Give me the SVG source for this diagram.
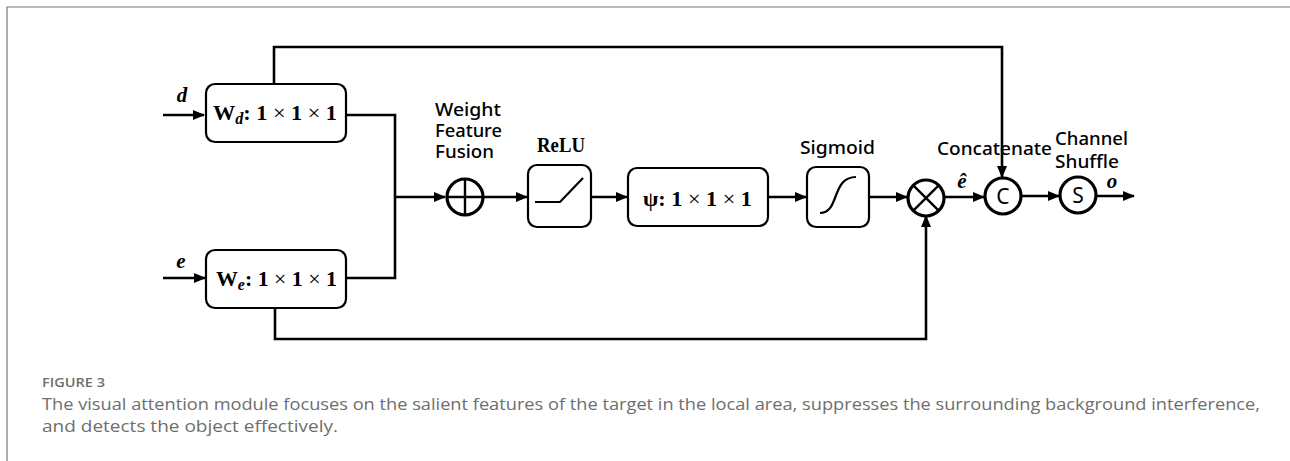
<svg xmlns="http://www.w3.org/2000/svg" width="1290" height="461" viewBox="0 0 1290 461">
<style>
.box{fill:#fff;stroke:#000;stroke-width:2.2}
.wire{fill:none;stroke:#000;stroke-width:2.6}
.circ{fill:#fff;stroke:#000;stroke-width:3.2}
.math{font-family:"Liberation Serif","DejaVu Serif",serif;font-weight:bold;font-size:22px;fill:#000}
.thin{font-weight:normal}
.lbl{font-family:"Noto Sans","Liberation Sans",sans-serif;font-weight:500;font-size:18px;fill:#000}
.var{font-family:"Liberation Serif","DejaVu Serif",serif;font-weight:bold;font-style:italic;font-size:21px;fill:#000}
.cap{font-family:"Open Sans","Liberation Sans",sans-serif;fill:#6e6e6e}
</style>
<defs>
<marker id="ah" markerWidth="12" markerHeight="10" refX="11" refY="5" orient="auto" markerUnits="userSpaceOnUse">
<path d="M0,0 L12,5 L0,10 Z" fill="#000"/>
</marker>
</defs>
<rect width="1290" height="461" fill="#fff"/>
<path d="M7,461 V7 H1290" fill="none" stroke="#777" stroke-width="1.2"/>

<g id="connectors">
<path class="wire" d="M163,115 H204" marker-end="url(#ah)"/>
<path class="wire" d="M163,278 H205" marker-end="url(#ah)"/>
<path class="wire" d="M346,115 H395 V278 H347"/>
<path class="wire" d="M395,197 H445" marker-end="url(#ah)"/>
<path class="wire" d="M484,197 H527" marker-end="url(#ah)"/>
<path class="wire" d="M591,197 H627" marker-end="url(#ah)"/>
<path class="wire" d="M768,197 H806" marker-end="url(#ah)"/>
<path class="wire" d="M869,197 H907" marker-end="url(#ah)"/>
<path class="wire" d="M944,197 H984" marker-end="url(#ah)"/>
<path class="wire" d="M1021,196 H1059" marker-end="url(#ah)"/>
<path class="wire" d="M1097,196 H1134" marker-end="url(#ah)"/>
<path class="wire" d="M274,84 V47 H1002 V177" marker-end="url(#ah)"/>
<path class="wire" d="M275,308 V339 H926 V216" marker-end="url(#ah)"/>
</g>

<g id="label-d"><text class="var" x="182" y="102" text-anchor="middle">d</text></g>
<g id="label-e"><text class="var" x="181" y="268" text-anchor="middle">e</text></g>

<g id="node-wd">
<rect class="box" x="206" y="84" width="140" height="58" rx="9"/>
<text class="math" x="213" y="120" textLength="124" lengthAdjust="spacingAndGlyphs">W<tspan font-style="italic" font-size="16" dy="4">d</tspan><tspan dy="-4">: 1 </tspan><tspan class="thin">×</tspan> 1 <tspan class="thin">×</tspan> 1</text>
</g>
<g id="node-we">
<rect class="box" x="206" y="250" width="140" height="58" rx="9"/>
<text class="math" x="216" y="286" textLength="121" lengthAdjust="spacingAndGlyphs">W<tspan font-style="italic" font-size="16" dy="4">e</tspan><tspan dy="-4">: 1 </tspan><tspan class="thin">×</tspan> 1 <tspan class="thin">×</tspan> 1</text>
</g>

<g id="node-fusion">
<text class="lbl" x="435" y="116" textLength="66" lengthAdjust="spacingAndGlyphs">Weight</text>
<text class="lbl" x="435" y="137" textLength="67" lengthAdjust="spacingAndGlyphs">Feature</text>
<text class="lbl" x="435" y="158" textLength="59" lengthAdjust="spacingAndGlyphs">Fusion</text>
<circle class="circ" cx="465" cy="197" r="18"/>
<path d="M447,197 H483 M465,179 V215" stroke="#000" stroke-width="2.4"/>
</g>

<g id="node-relu">
<text class="math" x="537" y="152" textLength="48" lengthAdjust="spacingAndGlyphs">ReLU</text>
<rect class="box" x="528" y="165" width="63" height="62" rx="9"/>
<path d="M535,202 H560 L583,178" fill="none" stroke="#000" stroke-width="2.2"/>
</g>

<g id="node-psi">
<rect class="box" x="628" y="168" width="140" height="58" rx="9"/>
<text class="math" x="643" y="206" textLength="109" lengthAdjust="spacingAndGlyphs">ψ: 1 <tspan class="thin">×</tspan> 1 <tspan class="thin">×</tspan> 1</text>
</g>

<g id="node-sigmoid">
<text class="lbl" x="800" y="154" textLength="75" lengthAdjust="spacingAndGlyphs">Sigmoid</text>
<rect class="box" x="807" y="167" width="62" height="60" rx="9"/>
<path d="M820,213 C840,213 831,177 856,177" fill="none" stroke="#000" stroke-width="2.2"/>
</g>

<g id="node-mult">
<circle class="circ" cx="926" cy="198" r="18"/>
<path d="M913.3,185.3 L938.7,210.7 M938.7,185.3 L913.3,210.7" stroke="#000" stroke-width="2.4"/>
</g>

<g id="label-ehat"><text class="var" x="962" y="188" text-anchor="middle">ê</text></g>

<g id="node-concat">
<text class="lbl" x="937" y="155" textLength="115" lengthAdjust="spacingAndGlyphs">Concatenate</text>
<circle class="circ" cx="1003" cy="196" r="18"/>
<text x="1003" y="203.5" text-anchor="middle" font-family="Noto Sans, Liberation Sans, sans-serif" font-size="21" fill="#000">C</text>
</g>

<g id="node-shuffle">
<text class="lbl" x="1055" y="145" textLength="73" lengthAdjust="spacingAndGlyphs">Channel</text>
<text class="lbl" x="1055" y="168" textLength="64" lengthAdjust="spacingAndGlyphs">Shuffle</text>
<circle class="circ" cx="1078" cy="195" r="18"/>
<text x="1078" y="202.5" text-anchor="middle" font-family="Noto Sans, Liberation Sans, sans-serif" font-size="21" fill="#000">S</text>
</g>

<g id="label-o"><text class="var" x="1112" y="188" text-anchor="middle">o</text></g>

<g id="caption">
<text class="cap" x="42" y="387" font-size="13" font-weight="600" textLength="63" lengthAdjust="spacingAndGlyphs">FIGURE 3</text>
<text class="cap" x="42" y="410" font-size="16.5" textLength="1218" lengthAdjust="spacingAndGlyphs">The visual attention module focuses on the salient features of the target in the local area, suppresses the surrounding background interference,</text>
<text class="cap" x="42" y="432" font-size="16.5" textLength="296" lengthAdjust="spacingAndGlyphs">and detects the object effectively.</text>
</g>
</svg>
